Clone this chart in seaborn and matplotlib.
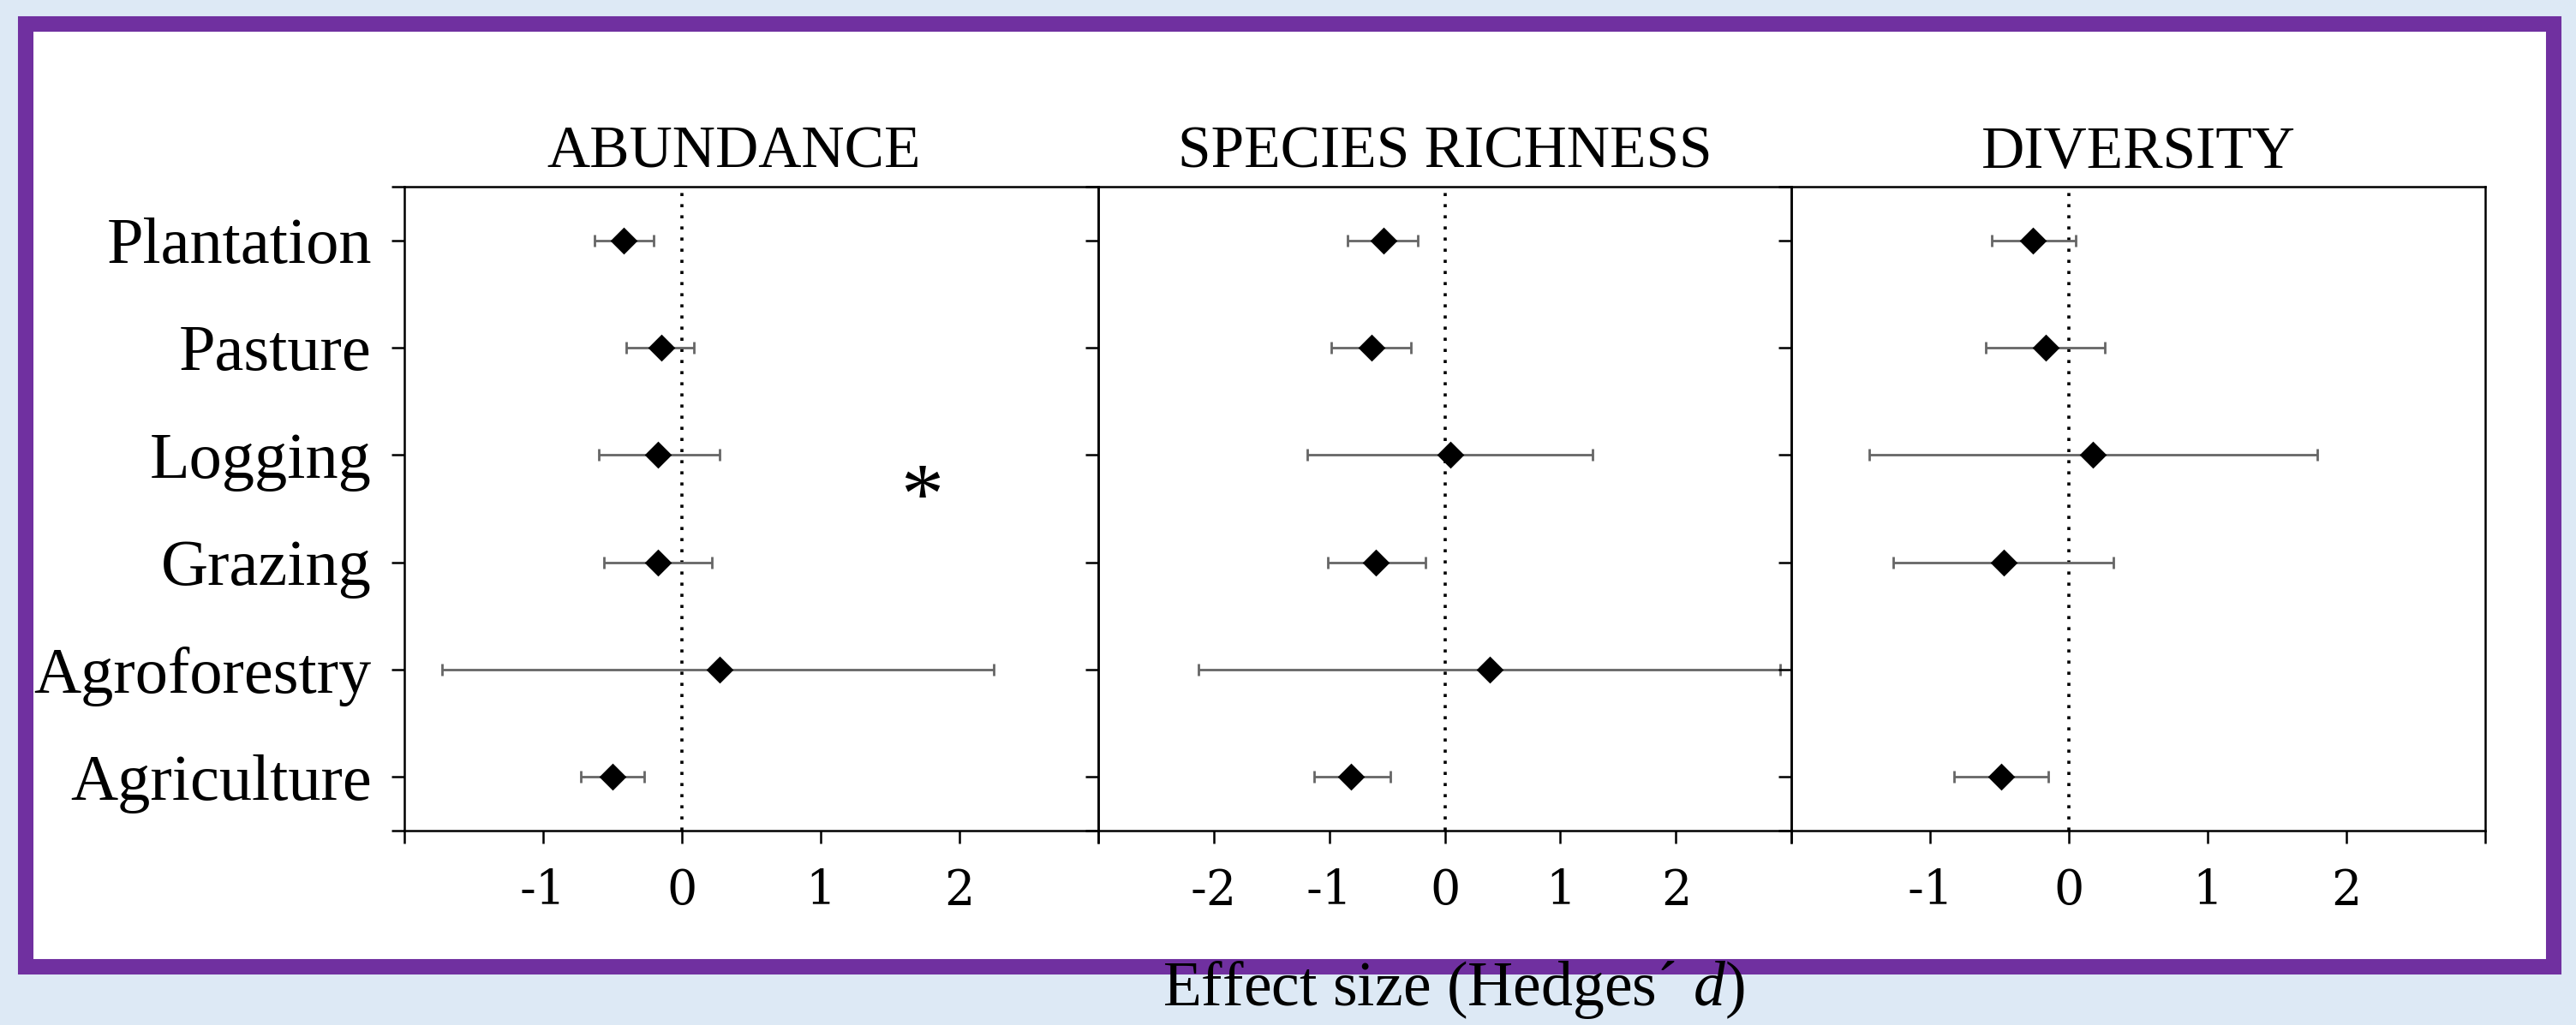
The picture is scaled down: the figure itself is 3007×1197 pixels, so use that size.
import numpy as np
import pandas as pd
import matplotlib
matplotlib.use("Agg")
import matplotlib.pyplot as plt
from matplotlib.patches import Rectangle
import seaborn as sns

# Datos (d de Hedges y limites del IC)
habitats = ["Plantation", "Pasture", "Logging", "Grazing", "Agroforestry", "Agriculture"]

abund_d = [-0.42, -0.15, -0.17, -0.17, 0.27, -0.50]
abund_lo = [-0.63, -0.40, -0.60, -0.56, -1.73, -0.73]
abund_hi = [-0.20, 0.09, 0.27, 0.22, 2.25, -0.27]

rich_d = [-0.53, -0.63, 0.05, -0.60, 0.39, -0.81]
rich_lo = [-0.84, -0.98, -1.19, -1.01, -2.13, -1.13]
rich_hi = [-0.23, -0.29, 1.28, -0.17, 2.90, -0.47]

div_d = [-0.26, -0.17, 0.17, -0.47, np.nan, -0.49]
div_lo = [-0.56, -0.60, -1.44, -1.27, np.nan, -0.83]
div_hi = [0.05, 0.26, 1.79, 0.32, np.nan, -0.15]

panel_titles = ["ABUNDANCE", "SPECIES RICHNESS", "DIVERSITY"]
panel_xlims = [(-2, 3), (-3, 3), (-2, 3)]
panel_labels = [[-1, 0, 1, 2], [-2, -1, 0, 1, 2], [-1, 0, 1, 2]]

# asterisco en el panel de abundancia (entre Logging y Grazing)
star_x, star_y = 1.73, 2.43

sns.set_style("ticks")
plt.rcParams["font.family"] = ["Liberation Serif", "DejaVu Serif"]
plt.rcParams["mathtext.fontset"] = "custom"
plt.rcParams["mathtext.it"] = "Liberation Serif:italic"
plt.rcParams["mathtext.rm"] = "Liberation Serif"
plt.rcParams["axes.unicode_minus"] = False
plt.rcParams["text.color"] = "black"
plt.rcParams["axes.labelcolor"] = "black"
plt.rcParams["xtick.color"] = "black"
plt.rcParams["ytick.color"] = "black"

fig = plt.figure(figsize=(30.07, 11.97), dpi=100)
fig.patch.set_facecolor("#dde9f5")

# marco morado
frame = Rectangle((0.0101, 0.0568), 0.9811, 0.9202, transform=fig.transFigure,
                  facecolor="white", edgecolor="#7030a0", linewidth=13, zorder=-1)
fig.patches.append(frame)

axes = fig.subplots(1, 3)
fig.subplots_adjust(left=0.15697, right=0.96475, bottom=0.18964, top=0.81788, wspace=0)

panels = [
    (abund_d, abund_lo, abund_hi),
    (rich_d, rich_lo, rich_hi),
    (div_d, div_lo, div_hi),
]

for i, ax in enumerate(axes):
    d, lo, hi = panels[i]
    df = pd.DataFrame({"habitat": habitats, "d": d, "lo": lo, "hi": hi})
    df["pos"] = np.arange(len(habitats))
    df = df.dropna()

    ax.set_facecolor("none")
    ax.axvline(0, color="black", lw=2.6, ls=(0, (1, 2.6)), zorder=1)
    ax.errorbar(df["d"], df["pos"], xerr=[df["d"] - df["lo"], df["hi"] - df["d"]],
                fmt="none", ecolor="#666666", elinewidth=2, capsize=5, capthick=2, zorder=2)
    sns.scatterplot(data=df, x="d", y="pos", marker="D", s=260, color="black",
                    edgecolor="black", linewidth=0, ax=ax, zorder=3, legend=False)

    lo_x, hi_x = panel_xlims[i]
    ax.set_xlim(lo_x, hi_x)
    ax.set_ylim(len(habitats) - 0.5, -0.5)

    xt = list(range(lo_x, hi_x + 1))
    ax.set_xticks(xt)
    ax.set_xticklabels([str(t) if t in panel_labels[i] else "" for t in xt],
                       fontsize=40, family="DejaVu Serif")

    yt = [-0.5] + list(range(len(habitats))) + [len(habitats) - 0.5]
    ax.set_yticks(yt)
    if i == 0:
        ax.set_yticklabels([""] + habitats + [""], fontsize=55)
    else:
        ax.set_yticklabels([""] * len(yt))

    ax.tick_params(axis="x", direction="out", length=11, width=1.8, pad=20)
    ax.tick_params(axis="y", direction="out", length=10.5, width=1.8, pad=17)
    for sp in ax.spines.values():
        sp.set_visible(True)
        sp.set_linewidth(1.8)
        sp.set_color("black")

    ax.set_title(panel_titles[i], fontsize=50, pad=16, color="black")
    ax.set_xlabel("")
    ax.set_ylabel("")

axes[0].set_title(panel_titles[0], fontsize=50, pad=16, color="black", x=0.475)

axes[0].text(star_x, star_y, "*", fontsize=72, ha="center", va="center", color="black")

fig.text(0.5643, 0.0192, "Effect size (Hedges\u00b4 $d$)", fontsize=53,
         ha="center", va="baseline", zorder=5)

fig.savefig("out.png", dpi=100, facecolor=fig.get_facecolor())
